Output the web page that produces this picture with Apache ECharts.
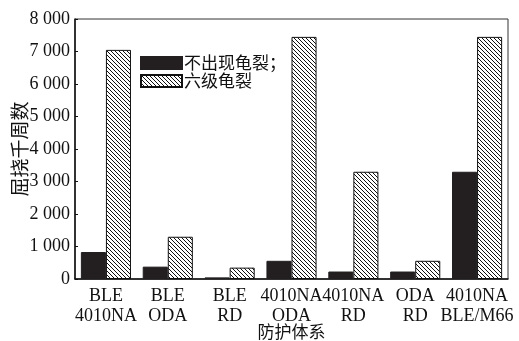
<!DOCTYPE html>
<html>
<head>
<meta charset="utf-8">
<script src="https://cdn.jsdelivr.net/npm/echarts@6/dist/echarts.min.js"></script>
<style>
  html, body { margin: 0; padding: 0; background: #fff; }
  #chart { width: 519px; height: 341px; }
</style>
</head>
<body>
<div id="chart"></div>
<script>
// Protection systems (two-line category labels)
const categories = ['BLE\n4010NA', 'BLE\nODA', 'BLE\nRD', '4010NA\nODA', '4010NA\nRD', 'ODA\nRD', '4010NA\nBLE/M66'];
// Flex kilocycles: no cracking / grade-6 cracking
const noCrack = [830, 380, 50, 560, 230, 230, 3300];
const grade6Crack = [7050, 1300, 350, 7450, 3300, 560, 7450];
const seriesNames = ['不出现龟裂；', '六级龟裂'];
const yTicks = [0, 1000, 2000, 3000, 4000, 5000, 6000, 7000, 8000];

// Diagonal "\" hatch tile
function hatchTile(size) {
  const c = document.createElement('canvas');
  c.width = size; c.height = size;
  const g = c.getContext('2d');
  g.fillStyle = '#fff';
  g.fillRect(0, 0, size, size);
  g.strokeStyle = '#111';
  g.lineWidth = 1;
  g.beginPath();
  g.moveTo(-1, -1); g.lineTo(size + 1, size + 1);
  g.moveTo(size - 1, -1); g.lineTo(size + 1, 1);
  g.moveTo(-1, size - 1); g.lineTo(1, size + 1);
  g.stroke();
  return c;
}

const serif = "'Liberation Serif', 'Times New Roman', serif";
const cjk = "'Noto Sans CJK SC', sans-serif";

const chart = echarts.init(document.getElementById('chart'), null, { renderer: 'canvas' });
chart.setOption({
  animation: false,
  grid: {
    left: 75, right: 11, top: 19, bottom: 62,
    containLabel: false, outerBoundsMode: 'none',
    show: true, borderColor: '#333', borderWidth: 1
  },
  legend: {
    orient: 'vertical',
    left: 140, top: 54, padding: 0,
    itemWidth: 41, itemHeight: 12, itemGap: 0,
    icon: 'rect',
    textStyle: { fontFamily: cjk, fontSize: 17, color: '#111', lineHeight: 18, padding: [0, 0, 0, -3] },
    data: seriesNames
  },
  xAxis: {
    type: 'category',
    data: categories,
    name: '防护体系',
    nameLocation: 'middle',
    nameGap: 44,
    nameMoveOverlap: false,
    nameTextStyle: { fontFamily: cjk, fontSize: 17, color: '#111' },
    axisLine: { lineStyle: { color: '#111', width: 1.5 } },
    axisTick: { show: false },
    axisLabel: { fontFamily: serif, fontSize: 18, color: '#111', lineHeight: 20, margin: 7, interval: 0 }
  },
  yAxis: {
    type: 'value',
    min: 0, max: 8000, interval: 1000,
    name: '屈挠千周数',
    nameLocation: 'middle',
    nameGap: 46,
    nameMoveOverlap: false,
    nameTextStyle: { fontFamily: cjk, fontSize: 19, color: '#111' },
    axisLine: { show: true, lineStyle: { color: '#111', width: 1.5 } },
    axisTick: { show: true, inside: true, length: 3, lineStyle: { color: '#111' } },
    splitLine: { show: false },
    axisLabel: {
      fontFamily: serif, fontSize: 18, color: '#111', margin: 5,
      customValues: yTicks,
      formatter: v => v >= 1000 ? Math.floor(v / 1000) + ' ' + String(v % 1000).padStart(3, '0') : String(v)
    }
  },
  series: [
    {
      name: seriesNames[0], type: 'bar', data: noCrack,
      barGap: '0%', barCategoryGap: '19%',
      itemStyle: { color: '#231f20', borderColor: '#231f20', borderWidth: 1 }
    },
    {
      name: seriesNames[1], type: 'bar', data: grade6Crack,
      barGap: '0%', barCategoryGap: '19%',
      itemStyle: { color: { image: hatchTile(4), repeat: 'repeat' }, borderColor: '#111', borderWidth: 1 }
    }
  ]
});
</script>
</body>
</html>
